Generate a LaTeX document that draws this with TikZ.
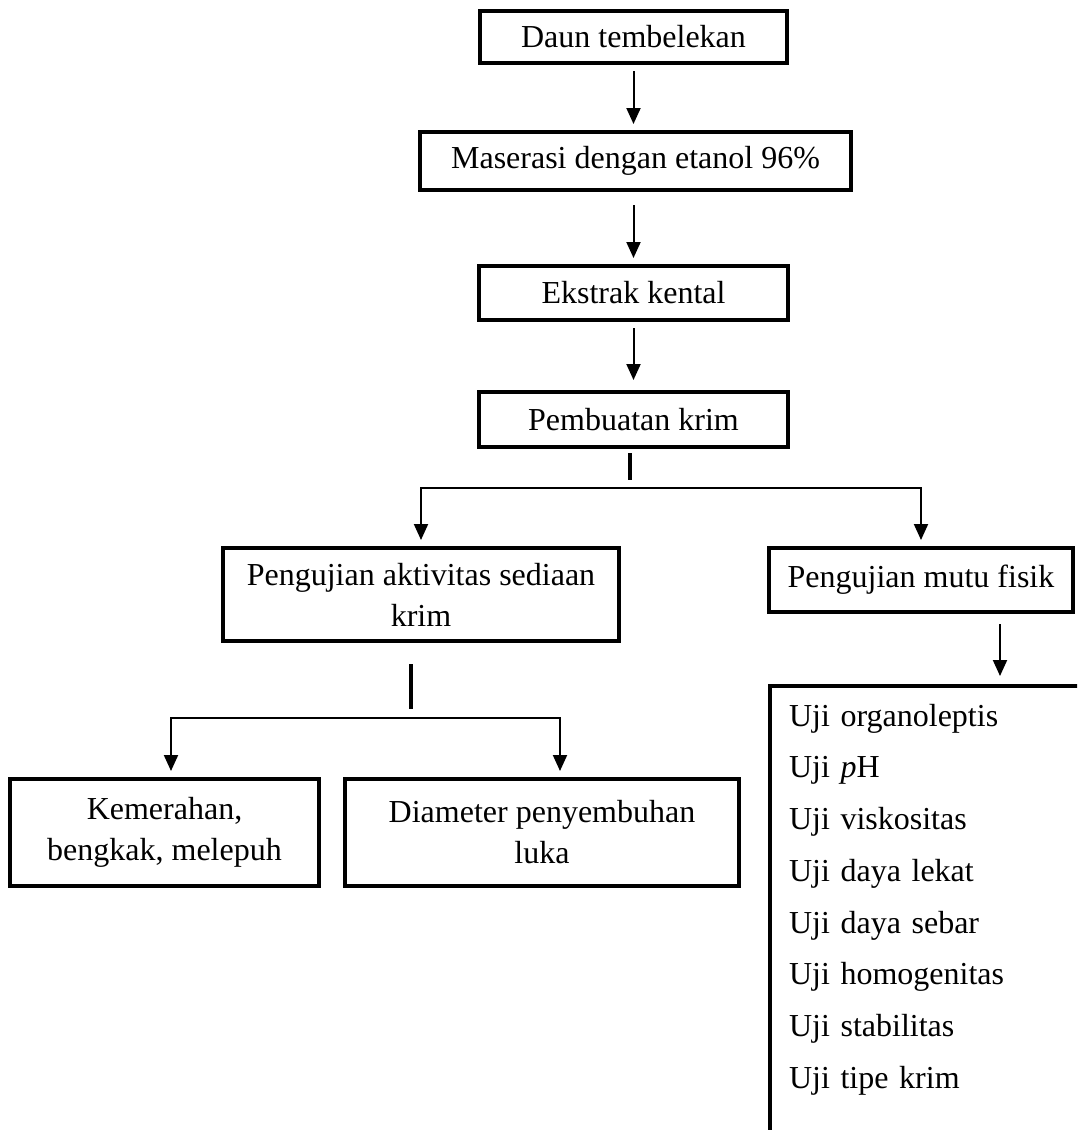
\documentclass[tikz,border=0pt]{standalone}
\usepackage{fontspec}
\setmainfont{Liberation Serif}
\usetikzlibrary{arrows.meta}

\tikzset{
  kotak/.style={draw, line width=2pt, align=center, inner sep=0pt,
    font=\fontsize{16}{20.5}\selectfont},
  daftar/.style={draw, line width=2pt, align=left, anchor=north west,
    text width=140pt, inner xsep=9.5pt, inner ysep=9pt,
    font=\fontsize{16}{25.85}\selectfont},
  panah/.style={line width=1pt, shorten <=3pt, shorten >=3pt},
  tegak/.style={line width=2pt}
}

\begin{document}
\begin{tikzpicture}[x=0.5pt, y=-0.5pt, >={Triangle[length=8pt,width=7pt]}]
  \useasboundingbox (0,0) rectangle (1077,1130);
  \clip (0,0) rectangle (1077,1130);

  % Alur utama
  \node[kotak, minimum width=153.5pt, minimum height=26pt] (daun) at (633.5,37) {Daun tembelekan};
  \node[kotak, minimum width=215.5pt, minimum height=29pt] (maserasi) at (635.5,161) {Maserasi dengan etanol 96\%};
  \node[kotak, minimum width=154.5pt, minimum height=27pt] (ekstrak) at (633.5,293) {Ekstrak kental};
  \node[kotak, minimum width=154.5pt, minimum height=27.5pt] (krim) at (633.5,419.5) {Pembuatan krim};

  % Cabang pengujian
  \node[kotak, minimum width=198pt, minimum height=46.5pt] (aktivitas) at (421,594.5) {Pengujian aktivitas sediaan\\krim};
  \node[kotak, minimum width=152pt, minimum height=32pt] (mutu) at (921,580) {Pengujian mutu fisik};
  \node[kotak, minimum width=154.5pt, minimum height=53.5pt] (kemerahan) at (164.5,832.5) {Kemerahan,\\bengkak, melepuh};
  \node[kotak, minimum width=197pt, minimum height=53.5pt] (diameter) at (542,832.5) {Diameter penyembuhan\\luka};
  \node[daftar] (ujilist) at (768,684) {Uji organoleptis\\Uji \textit{p}H\\Uji viskositas\\Uji daya lekat\\Uji daya sebar\\Uji homogenitas\\Uji stabilitas\\Uji tipe krim\rule[-45pt]{0pt}{0pt}};

  % Panah
  \draw[panah, ->] (daun.south) -- (daun.south |- maserasi.north);
  \draw[panah, ->, shorten <=6.5pt] (maserasi.south -| daun.south) -- (daun.south |- ekstrak.north);
  \draw[panah, ->, shorten >=5pt] (ekstrak.south) -- (krim.north);

  \coordinate (fork1) at (633,488);
  \draw[tegak] ([xshift=-1.75pt]krim.south) ++(0,4) -- ++(0,27);
  \draw[panah, <->] (aktivitas.north) -- (aktivitas |- fork1) -- (mutu |- fork1) -- (mutu.north);

  \coordinate (fork2l) at (171,718);
  \coordinate (fork2r) at (560,718);
  \draw[tegak] ([xshift=-5pt]aktivitas.south) ++(0,21) -- ++(0,45);
  \draw[panah, <->] (fork2l |- kemerahan.north) -- (fork2l) -- (fork2r) -- (fork2r |- diameter.north);

  \coordinate (m) at ([xshift=39.5pt]mutu.south);
  \draw[panah, ->, shorten <=5pt, shorten >=4pt] (m) -- (m |- ujilist.north);
\end{tikzpicture}
\end{document}
